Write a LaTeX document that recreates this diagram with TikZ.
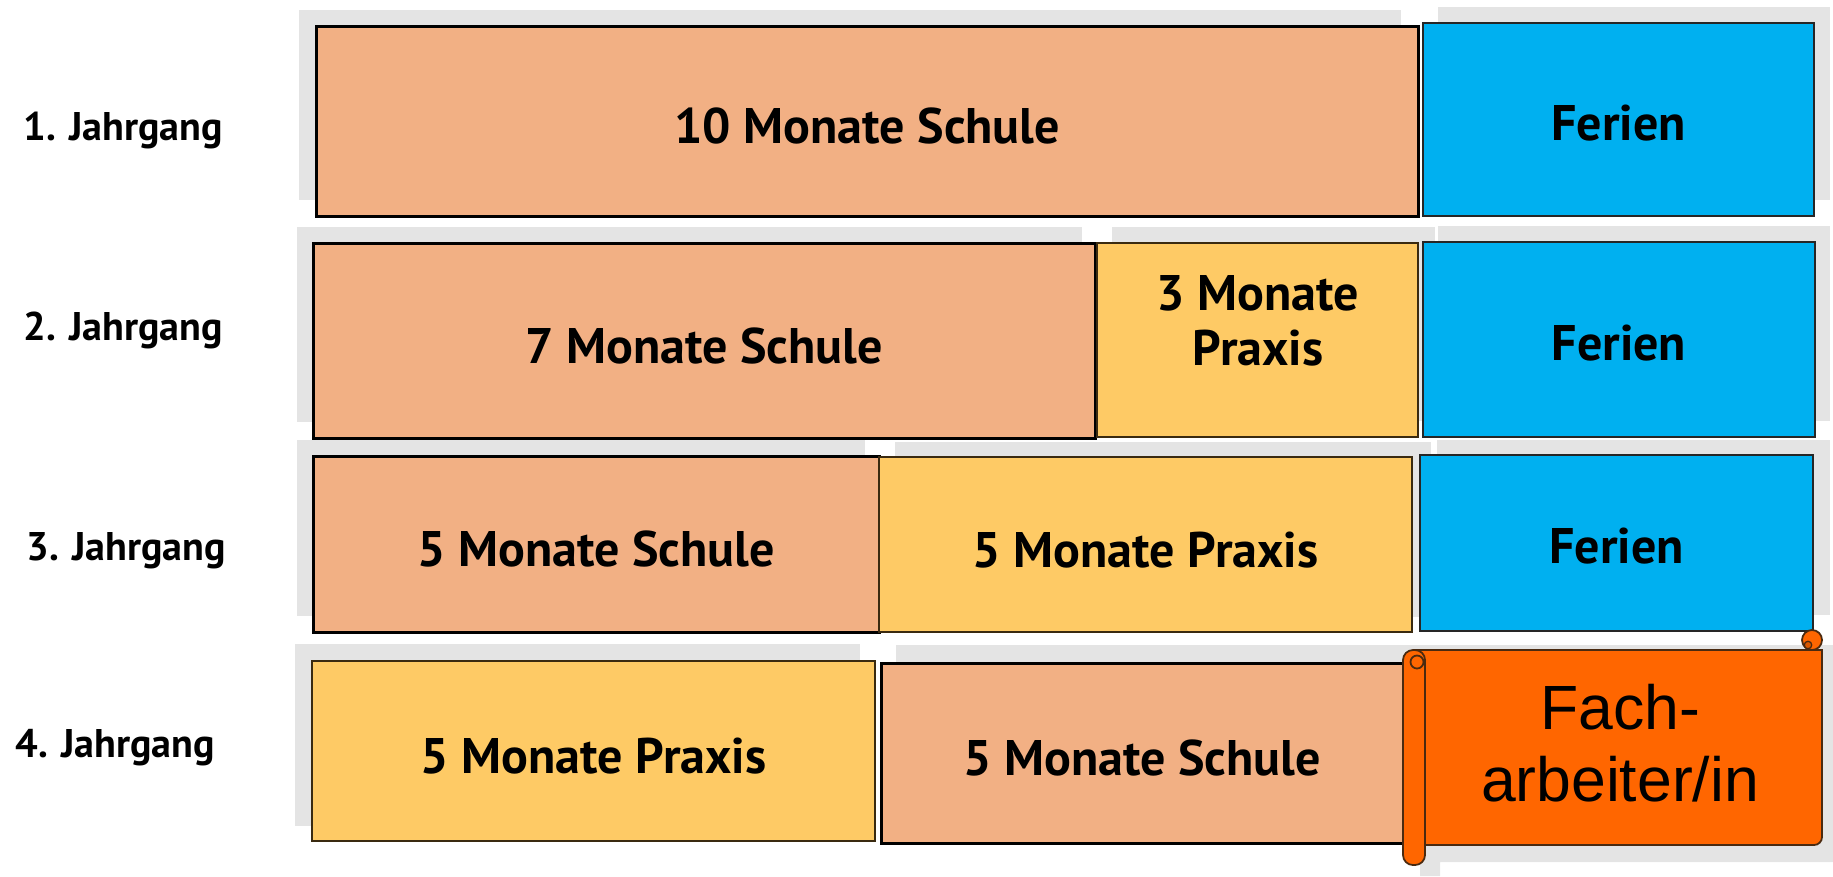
\documentclass[tikz,border=0pt]{standalone}
\usepackage{fontspec}
\setmainfont{PT Sans}
\newfontfamily\arialfont{Liberation Sans}
\definecolor{schule}{HTML}{F2B084}
\definecolor{praxis}{HTML}{FECA65}
\definecolor{ferien}{HTML}{00B0F0}
\definecolor{fach}{HTML}{FF6600}
\definecolor{shade}{HTML}{E4E4E4}
\definecolor{scrollline}{HTML}{4A2A10}
\definecolor{praxisline}{HTML}{3A2A10}
\newcommand\blk[7]{%
  \node[#2, minimum width={0.4pt*(#5-#3)}, minimum height={0.4pt*(#6-#4)}] (#1) at ({(#3+#5)/2},{(#4+#6)/2}) {#7};}
\tikzset{
  boxtext/.style={font=\bfseries\fontsize{20}{22}\selectfont, text=black},
  schulebox/.style={boxtext, draw=black, line width=1.2pt, fill=schule, inner sep=0pt, text height=18pt, text depth=0pt},
  praxisbox/.style={boxtext, draw=praxisline, line width=0.7pt, fill=praxis, inner sep=0pt, text height=18pt, text depth=0pt},
  ferienbox/.style={boxtext, draw=black!85, line width=0.6pt, fill=ferien, inner sep=0pt, text height=16.5pt, text depth=0pt},
  shadowfill/.style={fill=shade},
  scrollpart/.style={draw=scrollline, line width=0.7pt, fill=fach},
  jahr/.style={anchor=base west, font=\bfseries\fontsize{16}{18}\selectfont, inner sep=0pt},
}
\begin{document}
\begin{tikzpicture}[x=0.4pt,y=-0.4pt]
\useasboundingbox (0,0) rectangle (1833,876);
% grey backdrops
\fill[shadowfill] (299,10) rectangle (1401,200);
\fill[shadowfill] (1438,7) rectangle (1830,200);
\fill[shadowfill] (297,227) rectangle (1082,422);
\fill[shadowfill] (1112,227) rectangle (1435,421);
\fill[shadowfill] (1438,226) rectangle (1830,421);
\fill[shadowfill] (297,440) rectangle (865,616);
\fill[shadowfill] (895,442) rectangle (1431,617);
\fill[shadowfill] (1437,440) rectangle (1830,615);
\fill[shadowfill] (295,644) rectangle (860,826);
\fill[shadowfill] (896,645) rectangle (1420,828);
\fill[shadowfill] (1420,645) -- (1833,645) -- (1833,862) -- (1440,862) -- (1440,876) -- (1420,876) -- cycle;
% row 1
\blk{s1}{schulebox}{316}{26}{1418}{216}{10 Monate Schule}
\blk{f1}{ferienbox}{1423}{23}{1814}{216}{Ferien}
% row 2
\blk{s2}{schulebox}{313}{243}{1095}{438}{7 Monate Schule}
\blk{p2}{praxisbox}{1097}{243}{1418}{437}{}
\node[boxtext, align=center, inner sep=0pt] (p2t) at (1258,321) {3 Monate\\Praxis};
\blk{f2}{ferienbox}{1423}{242}{1815}{437}{Ferien}
% row 3
\blk{s3}{schulebox}{313}{456}{879}{632}{5 Monate Schule}
\blk{p3}{praxisbox}{879}{457}{1412}{632}{5 Monate Praxis}
\blk{f3}{ferienbox}{1420}{455}{1813}{631}{Ferien}
% row 4
\blk{p4}{praxisbox}{312}{661}{875}{841}{5 Monate Praxis}
\blk{s4}{schulebox}{881}{663}{1403}{843}{5 Monate Schule}
% scroll
\draw[scrollpart] (1414,845) -- (1414,650) -- (1822,650) [rounded corners=3.2pt] -- (1822,845) -- (1414,845);
\draw[scrollpart] (1812,640) circle[radius=4pt];
\draw[scrollline, line width=0.5pt, fill=fach!85!black] (1808,645) circle[radius=1.5pt];
\draw[scrollpart, rounded corners=4pt] (1403,650) rectangle (1425,865);
\draw[scrollpart] (1417,662) circle[radius=2.6pt];
\node[font=\arialfont\fontsize{25}{28.8}\selectfont, align=center, inner sep=0pt] (fach) at (1620,743) {Fach-\\arbeiter/in};
% labels
\node[jahr] (j1) at (23,140) {1. Jahrgang};
\node[jahr] (j2) at (23,340) {2. Jahrgang};
\node[jahr] (j3) at (26,560) {3. Jahrgang};
\node[jahr] (j4) at (15,757) {4. Jahrgang};
\end{tikzpicture}
\end{document}
